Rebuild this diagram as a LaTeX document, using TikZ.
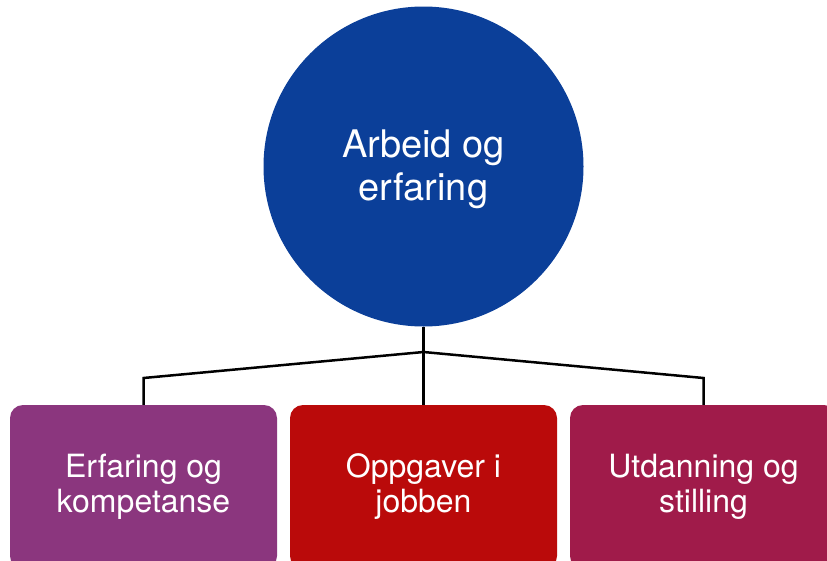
\documentclass[tikz,border=0pt]{standalone}
\usepackage{fontspec}
\setmainfont{TeX Gyre Heros}
\definecolor{hubblue}{HTML}{0B3F99}
\definecolor{leafpurple}{HTML}{8B367E}
\definecolor{leafred}{HTML}{BA0A0A}
\definecolor{leafmaroon}{HTML}{A01B4A}
\begin{document}
\begin{tikzpicture}[x=1pt,y=1pt,
  hub/.style={circle,fill=hubblue,minimum size=320pt,inner sep=0pt},
  hubtext/.style={text=white,inner sep=0pt,align=center,font=\fontsize{38}{43}\selectfont},
  leaf/.style={rectangle,rounded corners=13pt,text=white,minimum width=267pt,
    minimum height=164pt,inner sep=0pt,align=center,font=\fontsize{32}{35}\selectfont},
  link/.style={draw=black,line width=2.5pt,line join=miter}]
  \useasboundingbox (0,0) rectangle (827,-560);
  \clip (0,0) rectangle (827,-560);
  % central topic
  \node[hub] (hub) at (423.5,-166.5) {};
  \node[hubtext] (hubtext) at ([yshift=-3pt]hub.center) {Arbeid og\\erfaring};
  % three sub-topics (lower edges run past the page)
  \node[leaf,fill=leafpurple] (kompetanse) at (143.5,-487) {Erfaring og\\kompetanse};
  \node[leaf,fill=leafred]    (oppgaver)   at (423.5,-487) {Oppgaver i\\jobben};
  \node[leaf,fill=leafmaroon] (utdanning)  at (703.5,-487) {Utdanning og\\stilling};
  % branching points of the connector tree
  \coordinate (split) at (423.5,-352);
  \coordinate (bendL) at (143.5,-378);
  \coordinate (bendR) at (703.5,-378);
  \draw[link] (hub.south) -- (split);
  \draw[link] (split) -- (bendL) -- (kompetanse.north);
  \draw[link] (split) -- (oppgaver.north);
  \draw[link] (split) -- (bendR) -- (utdanning.north);
\end{tikzpicture}
\end{document}
